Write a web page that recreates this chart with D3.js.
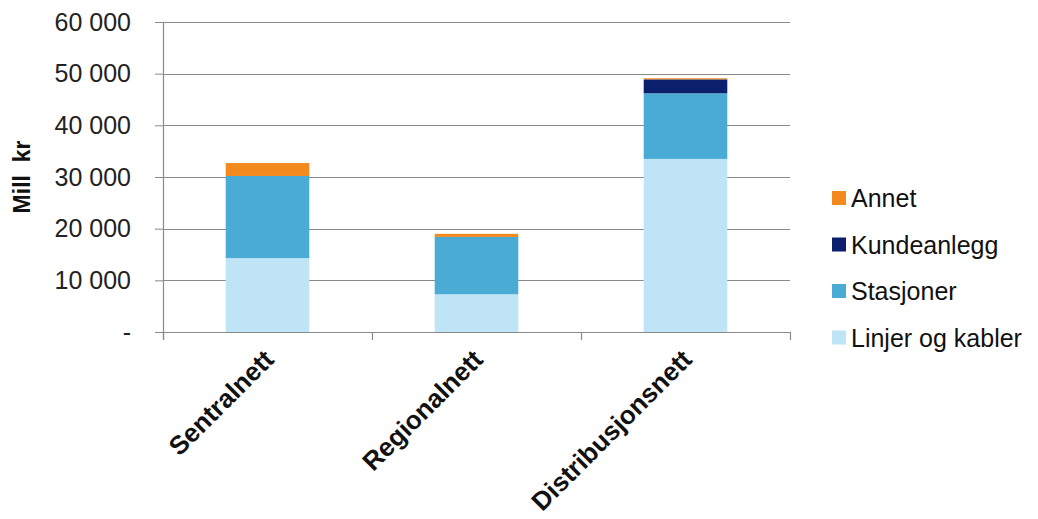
<!DOCTYPE html>
<html>
<head>
<meta charset="utf-8">
<script src="https://cdn.jsdelivr.net/npm/d3@7"></script>
<style>
  html, body { margin: 0; padding: 0; background: #fff; }
  svg { display: block; font-family: Arial, "Liberation Sans", sans-serif; }
</style>
</head>
<body>
<svg id="chart" width="1038" height="519"></svg>
<script>
// Investeringer per nettnivå (mill. kr), stablet etter anleggstype
const categories = ["Sentralnett", "Regionalnett", "Distribusjonsnett"];
const linjerOgKabler = [14300, 7300, 33500];
const stasjoner = [15900, 11100, 12700];
const kundeanlegg = [0, 0, 2700];
const annet = [2500, 600, 200];

const seriesNames = ["Linjer og kabler", "Stasjoner", "Kundeanlegg", "Annet"];
const seriesColors = ["#bee4f5", "#4aabd5", "#0c1f6c", "#f38a1e"];
const yTicks = [0, 10000, 20000, 30000, 40000, 50000, 60000];
const yLabel = "Mill  kr";

const rows = categories.map((c, i) => ({
  kategori: c,
  "Linjer og kabler": linjerOgKabler[i],
  "Stasjoner": stasjoner[i],
  "Kundeanlegg": kundeanlegg[i],
  "Annet": annet[i]
}));

const svg = d3.select("#chart");
const plot = { left: 163, right: 790, top: 22, bottom: 332 };

const x = d3.scaleBand()
  .domain(categories)
  .range([plot.left, plot.right])
  .paddingInner(0.6)
  .paddingOuter(0.3);

const y = d3.scaleLinear()
  .domain([0, 60000])
  .range([plot.bottom, plot.top]);

const color = d3.scaleOrdinal().domain(seriesNames).range(seriesColors);

const nb = d3.formatLocale({ decimal: ",", thousands: "\u00a0", grouping: [3], currency: ["", " kr"] });
const fmt = nb.format(",d");

// Left tick marks and labels
const yAxis = d3.axisLeft(y)
  .tickValues(yTicks)
  .tickSize(8)
  .tickPadding(24)
  .tickFormat(d => d === 0 ? "-" : fmt(d));

const gy = svg.append("g")
  .attr("transform", `translate(${plot.left},0)`)
  .call(yAxis);
gy.select(".domain").remove();
gy.selectAll(".tick line").attr("stroke", "#8a8a8a");
gy.selectAll(".tick text")
  .attr("fill", "#222")
  .style("font-size", "25px");

// Horizontal gridlines
svg.append("g")
  .selectAll("line")
  .data(yTicks)
  .join("line")
  .attr("x1", plot.left)
  .attr("x2", plot.right)
  .attr("y1", d => Math.round(y(d)) + 0.5)
  .attr("y2", d => Math.round(y(d)) + 0.5)
  .attr("stroke", "#8a8a8a")
  .attr("stroke-width", 1.2);

// Vertical axis line
svg.append("line")
  .attr("x1", plot.left + 0.5).attr("x2", plot.left + 0.5)
  .attr("y1", plot.top).attr("y2", plot.bottom + 8)
  .attr("stroke", "#8a8a8a")
  .attr("stroke-width", 1.2);

// Stacked bars
const stack = d3.stack().keys(seriesNames);
const layers = stack(rows);

svg.append("g")
  .selectAll("g")
  .data(layers)
  .join("g")
  .attr("fill", d => color(d.key))
  .selectAll("rect")
  .data(d => d)
  .join("rect")
  .attr("x", d => x(d.data.kategori))
  .attr("width", x.bandwidth())
  .attr("y", d => y(d[1]))
  .attr("height", d => y(d[0]) - y(d[1]));

// Category boundary ticks below the baseline
const boundaries = categories.map(c => x(c) - x.step() * x.paddingInner() / 2)
  .concat([plot.right]);
boundaries[0] = plot.left;
svg.append("g")
  .selectAll("line")
  .data(boundaries)
  .join("line")
  .attr("x1", d => Math.round(d) + 0.5)
  .attr("x2", d => Math.round(d) + 0.5)
  .attr("y1", plot.bottom)
  .attr("y2", plot.bottom + 8)
  .attr("stroke", "#8a8a8a")
  .attr("stroke-width", 1.2);

// Rotated category labels
svg.append("g")
  .selectAll("text")
  .data(categories)
  .join("text")
  .attr("transform", d => `translate(${x(d) + x.bandwidth() / 2 + 8},361) rotate(-45)`)
  .attr("text-anchor", "end")
  .attr("fill", "#111")
  .style("font-size", "26px")
  .style("font-weight", "bold")
  .text(d => d);

// Y axis title
svg.append("text")
  .attr("transform", "translate(30,177) rotate(-90)")
  .attr("text-anchor", "middle")
  .attr("fill", "#111")
  .style("font-size", "23px")
  .style("font-weight", "bold")
  .style("white-space", "pre")
  .text(yLabel);

// Legend, top to bottom in reverse stacking order
const legendItems = seriesNames.slice().reverse();
const legend = svg.append("g")
  .selectAll("g")
  .data(legendItems)
  .join("g")
  .attr("transform", (d, i) => `translate(832,${198 + i * 46.5})`);

legend.append("rect")
  .attr("x", 0).attr("y", -7)
  .attr("width", 14).attr("height", 14)
  .attr("fill", d => color(d));

legend.append("text")
  .attr("x", 19)
  .attr("y", 0)
  .attr("dy", "0.36em")
  .attr("fill", "#111")
  .style("font-size", "25px")
  .text(d => d);
</script>
</body>
</html>
